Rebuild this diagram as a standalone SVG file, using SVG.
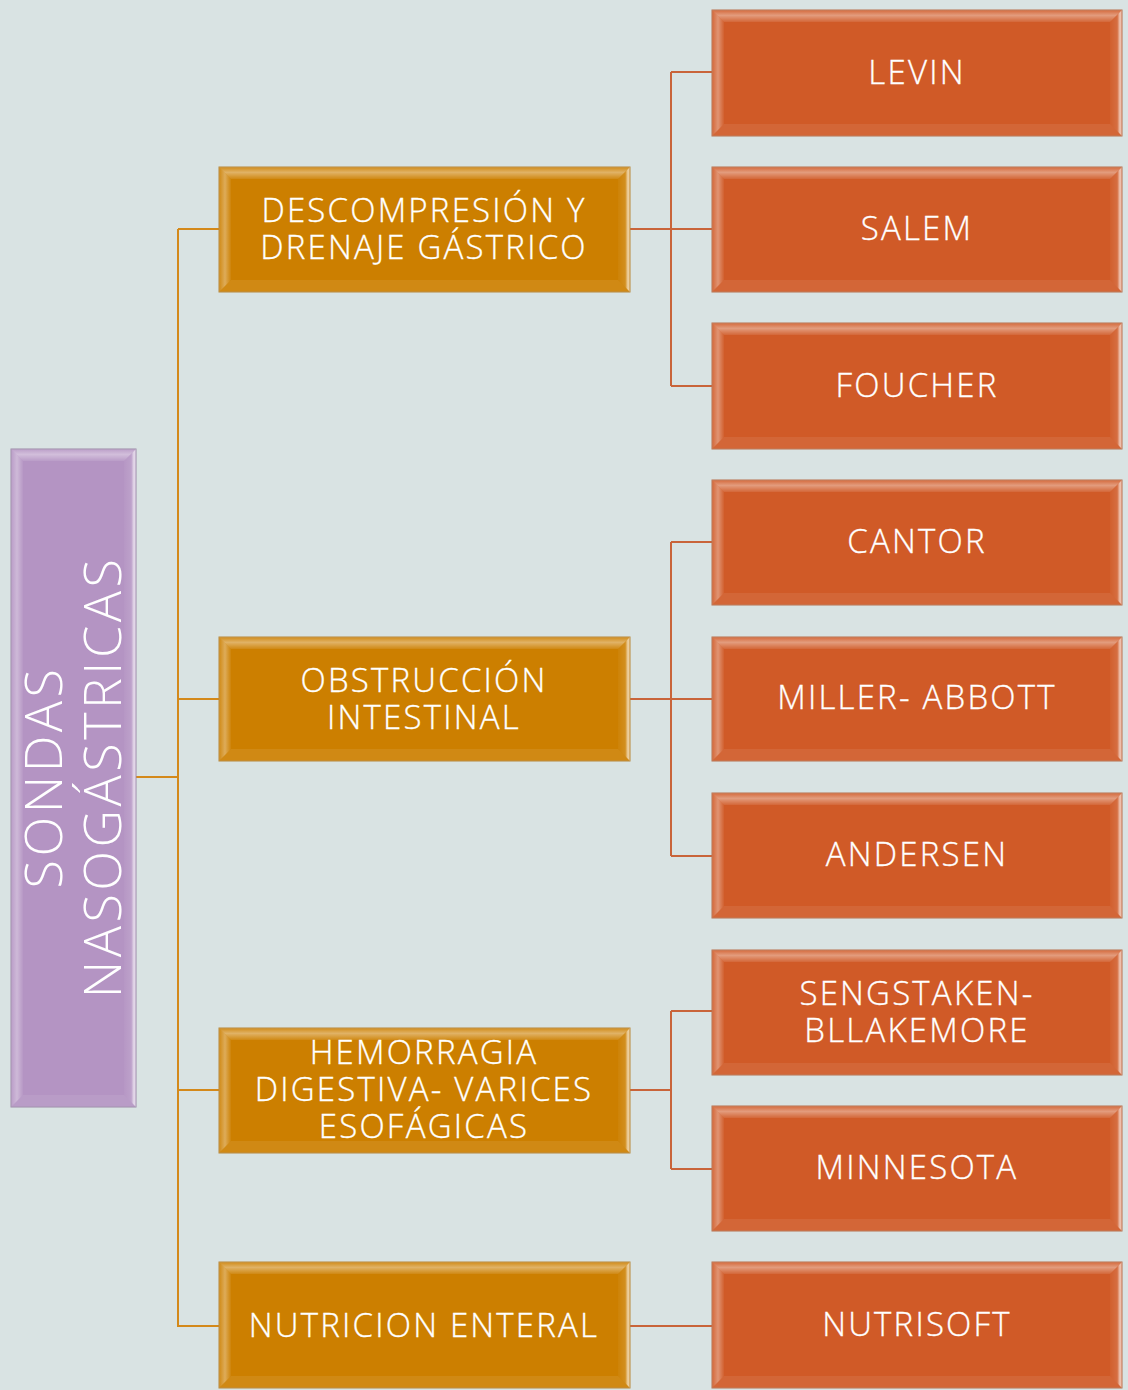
<svg xmlns="http://www.w3.org/2000/svg" width="1128" height="1390" viewBox="0 0 1128 1390">
<defs>
<linearGradient id="gTop" x1="0" y1="0" x2="0" y2="1">
<stop offset="0" stop-color="#fff" stop-opacity="0.1"/>
<stop offset="0.45" stop-color="#fff" stop-opacity="0.4"/>
<stop offset="1" stop-color="#fff" stop-opacity="0.08"/>
</linearGradient>
<linearGradient id="gLeft" x1="0" y1="0" x2="1" y2="0">
<stop offset="0" stop-color="#fff" stop-opacity="0.08"/>
<stop offset="0.5" stop-color="#fff" stop-opacity="0.35"/>
<stop offset="1" stop-color="#fff" stop-opacity="0.04"/>
</linearGradient>
<linearGradient id="gRight" x1="0" y1="0" x2="1" y2="0">
<stop offset="0" stop-color="#fff" stop-opacity="0.03"/>
<stop offset="0.6" stop-color="#fff" stop-opacity="0.12"/>
<stop offset="0.85" stop-color="#fff" stop-opacity="0.7"/>
<stop offset="1" stop-color="#fff" stop-opacity="0.2"/>
</linearGradient>
<style>
.bg{fill:#d9e3e3}
.root{fill:#b494c3;stroke:#9c8aa8;stroke-width:1}
.mid{fill:#cc7f00;stroke:#b7873a;stroke-width:1}
.leaf{fill:#d05a27;stroke:#b8704e;stroke-width:1}
.t{fill:#fff;stroke:#fff;stroke-width:0.3;font-family:"Open Sans","Liberation Sans",sans-serif;font-weight:300;font-size:33px;letter-spacing:2.2px;text-anchor:middle}
.rt{fill:#fff;font-family:"Open Sans","Liberation Sans",sans-serif;font-weight:300;font-size:52px;letter-spacing:3.5px;text-anchor:middle}
.c1{stroke:#d4891a;stroke-width:2;fill:none}
.c2{stroke:#c9643a;stroke-width:2;fill:none}
.bt{fill:url(#gTop)}
.bl{fill:url(#gLeft)}
.br{fill:url(#gRight)}
.bb{fill:#fff;fill-opacity:0.08}
</style>
</defs>
<rect class="bg" x="0" y="0" width="1128" height="1390"/>
<g id="connectors">
<path class="c1" d="M136 777 H178 M178 229 V1327 M178 229 H219 M178 699 H219 M178 1090 H219 M178 1326 H219"/>
<path class="c2" d="M630 229 H671 M671 72 V386 M671 72 H712 M671 229 H712 M671 386 H712"/>
<path class="c2" d="M630 699 H671 M671 542 V856 M671 542 H712 M671 699 H712 M671 856 H712"/>
<path class="c2" d="M630 1090 H671 M671 1011 V1169 M671 1011 H712 M671 1169 H712"/>
<path class="c2" d="M630 1326 H712"/>
</g>
<g id="root">
<rect class="root" x="11" y="449" width="125" height="658"/>
<polygon class="bt" points="11,449 136,449 124,461 23,461"/>
<polygon class="bl" points="11,449 23,461 23,1095 11,1107"/>
<polygon class="br" points="136,449 124,461 124,1095 136,1107"/>
<polygon class="bb" points="11,1107 23,1095 124,1095 136,1107"/>
<text class="rt" transform="translate(62 777) rotate(-90)" x="0" y="0">SONDAS</text>
<text class="rt" transform="translate(121 777) rotate(-90)" x="0" y="0">NASOGÁSTRICAS</text>
</g>
<g id="n-descompresion">
<rect class="mid" x="219" y="167" width="411" height="125"/>
<polygon class="bt" points="219,167 630,167 618,179 231,179"/>
<polygon class="bl" points="219,167 231,179 231,280 219,292"/>
<polygon class="br" points="630,167 618,179 618,280 630,292"/>
<polygon class="bb" points="219,292 231,280 618,280 630,292"/>
<text class="t" x="424" y="222">DESCOMPRESIÓN Y</text>
<text class="t" x="424" y="259">DRENAJE GÁSTRICO</text>
</g>
<g id="n-obstruccion">
<rect class="mid" x="219" y="637" width="411" height="124"/>
<polygon class="bt" points="219,637 630,637 618,649 231,649"/>
<polygon class="bl" points="219,637 231,649 231,749 219,761"/>
<polygon class="br" points="630,637 618,649 618,749 630,761"/>
<polygon class="bb" points="219,761 231,749 618,749 630,761"/>
<text class="t" x="424" y="692">OBSTRUCCIÓN</text>
<text class="t" x="424" y="729">INTESTINAL</text>
</g>
<g id="n-hemorragia">
<rect class="mid" x="219" y="1028" width="411" height="125"/>
<polygon class="bt" points="219,1028 630,1028 618,1040 231,1040"/>
<polygon class="bl" points="219,1028 231,1040 231,1141 219,1153"/>
<polygon class="br" points="630,1028 618,1040 618,1141 630,1153"/>
<polygon class="bb" points="219,1153 231,1141 618,1141 630,1153"/>
<text class="t" x="424" y="1064">HEMORRAGIA</text>
<text class="t" x="424" y="1101">DIGESTIVA- VARICES</text>
<text class="t" x="424" y="1138">ESOFÁGICAS</text>
</g>
<g id="n-nutricion">
<rect class="mid" x="219" y="1262" width="411" height="126"/>
<polygon class="bt" points="219,1262 630,1262 618,1274 231,1274"/>
<polygon class="bl" points="219,1262 231,1274 231,1376 219,1388"/>
<polygon class="br" points="630,1262 618,1274 618,1376 630,1388"/>
<polygon class="bb" points="219,1388 231,1376 618,1376 630,1388"/>
<text class="t" x="424" y="1337">NUTRICION ENTERAL</text>
</g>
<g id="l-levin">
<rect class="leaf" x="712" y="10" width="410" height="126"/>
<polygon class="bt" points="712,10 1122,10 1110,22 724,22"/>
<polygon class="bl" points="712,10 724,22 724,124 712,136"/>
<polygon class="br" points="1122,10 1110,22 1110,124 1122,136"/>
<polygon class="bb" points="712,136 724,124 1110,124 1122,136"/>
<text class="t" x="917" y="84">LEVIN</text>
</g>
<g id="l-salem">
<rect class="leaf" x="712" y="167" width="410" height="125"/>
<polygon class="bt" points="712,167 1122,167 1110,179 724,179"/>
<polygon class="bl" points="712,167 724,179 724,280 712,292"/>
<polygon class="br" points="1122,167 1110,179 1110,280 1122,292"/>
<polygon class="bb" points="712,292 724,280 1110,280 1122,292"/>
<text class="t" x="917" y="240">SALEM</text>
</g>
<g id="l-foucher">
<rect class="leaf" x="712" y="323" width="410" height="126"/>
<polygon class="bt" points="712,323 1122,323 1110,335 724,335"/>
<polygon class="bl" points="712,323 724,335 724,437 712,449"/>
<polygon class="br" points="1122,323 1110,335 1110,437 1122,449"/>
<polygon class="bb" points="712,449 724,437 1110,437 1122,449"/>
<text class="t" x="917" y="397">FOUCHER</text>
</g>
<g id="l-cantor">
<rect class="leaf" x="712" y="480" width="410" height="125"/>
<polygon class="bt" points="712,480 1122,480 1110,492 724,492"/>
<polygon class="bl" points="712,480 724,492 724,593 712,605"/>
<polygon class="br" points="1122,480 1110,492 1110,593 1122,605"/>
<polygon class="bb" points="712,605 724,593 1110,593 1122,605"/>
<text class="t" x="917" y="553">CANTOR</text>
</g>
<g id="l-miller">
<rect class="leaf" x="712" y="637" width="410" height="124"/>
<polygon class="bt" points="712,637 1122,637 1110,649 724,649"/>
<polygon class="bl" points="712,637 724,649 724,749 712,761"/>
<polygon class="br" points="1122,637 1110,649 1110,749 1122,761"/>
<polygon class="bb" points="712,761 724,749 1110,749 1122,761"/>
<text class="t" x="917" y="709">MILLER- ABBOTT</text>
</g>
<g id="l-andersen">
<rect class="leaf" x="712" y="793" width="410" height="125"/>
<polygon class="bt" points="712,793 1122,793 1110,805 724,805"/>
<polygon class="bl" points="712,793 724,805 724,906 712,918"/>
<polygon class="br" points="1122,793 1110,805 1110,906 1122,918"/>
<polygon class="bb" points="712,918 724,906 1110,906 1122,918"/>
<text class="t" x="917" y="866">ANDERSEN</text>
</g>
<g id="l-sengstaken">
<rect class="leaf" x="712" y="950" width="410" height="125"/>
<polygon class="bt" points="712,950 1122,950 1110,962 724,962"/>
<polygon class="bl" points="712,950 724,962 724,1063 712,1075"/>
<polygon class="br" points="1122,950 1110,962 1110,1063 1122,1075"/>
<polygon class="bb" points="712,1075 724,1063 1110,1063 1122,1075"/>
<text class="t" x="917" y="1005">SENGSTAKEN-</text>
<text class="t" x="917" y="1042">BLLAKEMORE</text>
</g>
<g id="l-minnesota">
<rect class="leaf" x="712" y="1106" width="410" height="125"/>
<polygon class="bt" points="712,1106 1122,1106 1110,1118 724,1118"/>
<polygon class="bl" points="712,1106 724,1118 724,1219 712,1231"/>
<polygon class="br" points="1122,1106 1110,1118 1110,1219 1122,1231"/>
<polygon class="bb" points="712,1231 724,1219 1110,1219 1122,1231"/>
<text class="t" x="917" y="1179">MINNESOTA</text>
</g>
<g id="l-nutrisoft">
<rect class="leaf" x="712" y="1262" width="410" height="126"/>
<polygon class="bt" points="712,1262 1122,1262 1110,1274 724,1274"/>
<polygon class="bl" points="712,1262 724,1274 724,1376 712,1388"/>
<polygon class="br" points="1122,1262 1110,1274 1110,1376 1122,1388"/>
<polygon class="bb" points="712,1388 724,1376 1110,1376 1122,1388"/>
<text class="t" x="917" y="1336">NUTRISOFT</text>
</g>
</svg>
